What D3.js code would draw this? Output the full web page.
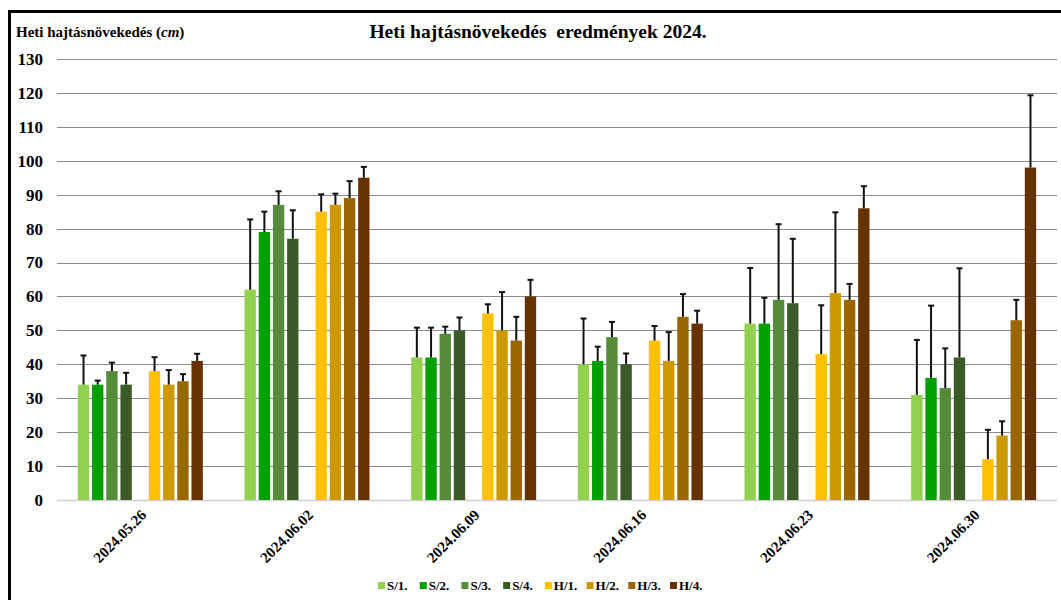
<!DOCTYPE html>
<html>
<head>
<meta charset="utf-8">
<script src="https://cdn.jsdelivr.net/npm/d3@7"></script>
<style>
  html, body { margin: 0; padding: 0; background: #fff; }
  svg { display: block; font-family: "Liberation Serif", "Times New Roman", serif; }
</style>
</head>
<body>
<svg id="chart" width="1061" height="600"></svg>
<script>
// Weekly shoot growth (cm), mean values and upper error (SD) per treatment
const dates = ["2024.05.26", "2024.06.02", "2024.06.09", "2024.06.16", "2024.06.23", "2024.06.30"];
const seriesNames = ["S/1.", "S/2.", "S/3.", "S/4.", "H/1.", "H/2.", "H/3.", "H/4."];
const seriesColors = ["#92d050", "#00a000", "#568b3a", "#3b5a27", "#ffc000", "#cc9900", "#996600", "#663300"];

const S1 = [34, 62, 42, 40, 52, 31];
const S2 = [34, 79, 42, 41, 52, 36];
const S3 = [38, 87, 49, 48, 59, 33];
const S4 = [34, 77, 50, 40, 58, 42];
const H1 = [38, 85, 55, 47, 43, 12];
const H2 = [34, 87, 50, 41, 61, 19];
const H3 = [35, 89, 47, 54, 59, 53];
const H4 = [41, 95, 60, 52, 86, 98];

const S1err = [8.6, 20.7, 8.8, 13.5, 16.4, 16.2];
const S2err = [1.2, 6.0, 8.8, 4.2, 7.6, 21.3];
const S3err = [2.5, 4.0, 2.1, 4.5, 22.3, 11.7];
const S4err = [3.5, 8.4, 3.8, 3.2, 19.0, 26.3];
const H1err = [4.1, 5.1, 2.7, 4.3, 14.4, 8.7];
const H2err = [4.3, 3.3, 11.3, 8.5, 23.8, 4.2];
const H3err = [2.1, 5.0, 7.0, 6.7, 4.7, 6.0];
const H4err = [2.1, 3.2, 4.9, 3.8, 6.5, 21.3];

const yTicks = [0, 10, 20, 30, 40, 50, 60, 70, 80, 90, 100, 110, 120, 130];

const values = [S1, S2, S3, S4, H1, H2, H3, H4];
const errors = [S1err, S2err, S3err, S4err, H1err, H2err, H3err, H4err];

// Slot order inside a group: four S bars, an empty slot, four H bars
const slots = ["S/1.", "S/2.", "S/3.", "S/4.", "gap", "H/1.", "H/2.", "H/3.", "H/4."];

const svg = d3.select("#chart");

// Frame around the chart
svg.append("rect")
  .attr("x", 9.5).attr("y", 11.5)
  .attr("width", 1100).attr("height", 700)
  .attr("fill", "none").attr("stroke", "#000").attr("stroke-width", 3);

const plotLeft = 57, plotRight = 1057, plotTop = 59, plotBottom = 500;

const y = d3.scaleLinear().domain([0, 130]).range([plotBottom, plotTop]);
const x0 = d3.scaleBand().domain(dates).range([plotLeft, plotRight])
  .paddingInner(0.25).paddingOuter(0.125);
const x1 = d3.scaleBand().domain(slots).range([0, x0.bandwidth()]).paddingInner(0.2);

// Horizontal gridlines
const gridG = svg.append("g");
gridG.selectAll("line").data(yTicks.filter(t => t > 0)).join("line")
  .attr("x1", plotLeft).attr("x2", plotRight)
  .attr("y1", d => Math.round(y(d)) + 0.5).attr("y2", d => Math.round(y(d)) + 0.5)
  .attr("stroke", "#8c8c8c").attr("stroke-width", 1.2);

// Baseline
svg.append("line")
  .attr("x1", plotLeft).attr("x2", plotRight)
  .attr("y1", y(0) + 0.5).attr("y2", y(0) + 0.5)
  .attr("stroke", "#d0d0d0").attr("stroke-width", 1.5);

// Y axis labels
const yAxis = d3.axisLeft(y).tickValues(yTicks).tickSize(0).tickPadding(0);
const yG = svg.append("g").attr("transform", "translate(43,0)").call(yAxis);
yG.select(".domain").remove();
yG.selectAll("text")
  .attr("font-family", "Liberation Serif, serif")
  .attr("font-size", 17).attr("font-weight", "bold").attr("fill", "#000");

// Bars
const barData = [];
seriesNames.forEach((name, si) => {
  dates.forEach((d, di) => {
    barData.push({ date: d, series: name, color: seriesColors[si], value: values[si][di], err: errors[si][di] });
  });
});

svg.append("g").selectAll("rect").data(barData).join("rect")
  .attr("x", d => x0(d.date) + x1(d.series))
  .attr("width", x1.bandwidth())
  .attr("y", d => y(d.value))
  .attr("height", d => y(0) - y(d.value))
  .attr("fill", d => d.color);

// Upper error bars
const errG = svg.append("g").attr("stroke", "#111").attr("stroke-width", 2);
errG.selectAll("line.v").data(barData).join("line").attr("class", "v")
  .attr("x1", d => x0(d.date) + x1(d.series) + x1.bandwidth() / 2)
  .attr("x2", d => x0(d.date) + x1(d.series) + x1.bandwidth() / 2)
  .attr("y1", d => y(d.value))
  .attr("y2", d => y(d.value + d.err));
errG.selectAll("line.cap").data(barData).join("line").attr("class", "cap")
  .attr("x1", d => x0(d.date) + x1(d.series) + x1.bandwidth() / 2 - 3)
  .attr("x2", d => x0(d.date) + x1(d.series) + x1.bandwidth() / 2 + 3)
  .attr("y1", d => y(d.value + d.err))
  .attr("y2", d => y(d.value + d.err));

// Category labels, rotated
const xAxis = d3.axisBottom(x0).tickSize(0).tickPadding(0);
const xG = svg.append("g").attr("transform", `translate(0,${plotBottom})`).call(xAxis);
xG.select(".domain").remove();
xG.selectAll("text")
  .attr("font-family", "Liberation Serif, serif")
  .attr("font-size", 15).attr("font-weight", "bold").attr("fill", "#000")
  .attr("text-anchor", "end")
  .attr("dy", null).attr("y", 0)
  .attr("transform", "translate(7,16) rotate(-45)");

// Title
svg.append("text")
  .attr("x", 538).attr("y", 38)
  .attr("text-anchor", "middle")
  .attr("font-size", 19.5).attr("font-weight", "bold")
  .style("white-space", "pre")
  .text("Heti hajtásnövekedés  eredmények 2024.");

// Y axis title
const yt = svg.append("text")
  .attr("x", 16).attr("y", 37)
  .attr("font-size", 15).attr("font-weight", "bold");
yt.append("tspan").text("Heti hajtásnövekedés (");
yt.append("tspan").attr("font-style", "italic").text("cm");
yt.append("tspan").text(")");

// Legend
const legendX = d3.scalePoint().domain(seriesNames).range([378, 670]);
const lg = svg.append("g").selectAll("g").data(seriesNames).join("g")
  .attr("transform", d => `translate(${legendX(d)},590)`);
lg.append("rect")
  .attr("x", 0).attr("y", -8).attr("width", 7).attr("height", 7)
  .attr("fill", (d, i) => seriesColors[i]);
lg.append("text")
  .attr("x", 9).attr("y", 0)
  .attr("font-size", 13).attr("font-weight", "bold")
  .text(d => d);
</script>
</body>
</html>
